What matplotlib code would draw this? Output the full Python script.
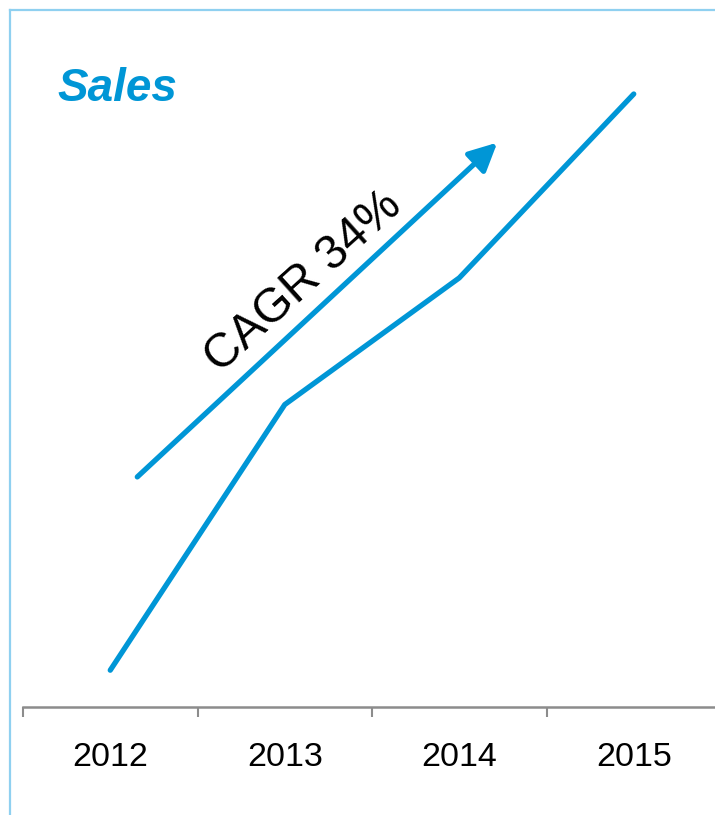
import matplotlib.pyplot as plt
from matplotlib.lines import Line2D

# Sales by year (indexed), CAGR ~34% from 2012 to 2015
years = ['2012', '2013', '2014', '2015']
sales = [100, 165, 196, 241]
cagr_label = 'CAGR 34%'

blue = '#0096D6'
grey = '#8C8C8C'

fig = plt.figure(figsize=(7.15, 8.15), dpi=100)
ax = fig.add_axes([23 / 715, 108 / 815, 698 / 715, 707 / 815])

x = list(range(len(years)))
ax.plot(x, sales, color=blue, lw=3.8, solid_capstyle='round', clip_on=False)

ax.set_xlim(-0.5, len(years) - 0.5)
ax.set_ylim(91, 264)

# category labels in the middle, tick marks on the boundaries
ax.set_xticks(x)
ax.set_xticklabels(years, fontsize=24.5, family='Liberation Sans')
ax.tick_params(axis='x', which='major', length=0, pad=25)
ax.set_xticks([i - 0.5 for i in range(len(years) + 1)], minor=True)
ax.tick_params(axis='x', which='minor', length=7.5, width=1.5, color=grey, direction='out')
ax.set_yticks([])

for side in ['left', 'right', 'top']:
    ax.spines[side].set_visible(False)
ax.spines['bottom'].set_color(grey)
ax.spines['bottom'].set_linewidth(1.8)

# growth arrow with CAGR label
ax.annotate('', xy=(2.218, 229.1), xytext=(0.155, 147.3),
            arrowprops=dict(arrowstyle='-|>,head_length=0.85,head_width=0.42',
                            color=blue, lw=3.8, shrinkA=0, shrinkB=0,
                            mutation_scale=20))
ax.text(1.11, 195.0, cagr_label, fontsize=34.5, family='Liberation Sans',
        rotation=42, rotation_mode='anchor', ha='center', va='center')

fig.text(57 / 715, 1 - 101 / 815, 'Sales', fontsize=33, family='Liberation Sans',
         fontweight='bold', style='italic', color=blue, va='baseline')

# thin frame on the left and top
frame = '#8FD0F0'
fig.add_artist(Line2D([10 / 715, 10 / 715], [0, 1 - 10 / 815], color=frame, lw=1.6,
                      transform=fig.transFigure))
fig.add_artist(Line2D([10 / 715, 1], [1 - 10 / 815, 1 - 10 / 815], color=frame, lw=1.6,
                      transform=fig.transFigure))

fig.savefig('out.png', dpi=100)
